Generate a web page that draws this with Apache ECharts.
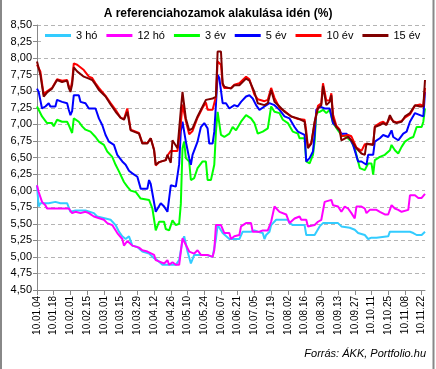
<!DOCTYPE html>
<html>
<head>
<meta charset="utf-8">
<script src="https://cdn.jsdelivr.net/npm/echarts@6/dist/echarts.min.js"></script>
<style>html,body{margin:0;padding:0;background:#fff;}#c{width:436px;height:369px;}</style>
</head>
<body>
<div id="c"></div>
<script>
// x tick labels (every 10 business days)
const xLabels = ['10.01.04','10.01.18','10.02.01','10.02.15','10.03.01','10.03.15','10.03.29','10.04.12','10.04.26','10.05.10','10.05.24','10.06.07','10.06.21','10.07.05','10.07.19','10.08.02','10.08.16','10.08.30','10.09.13','10.09.27','10.10.11','10.10.25','10.11.08','10.11.22'];
const seriesNames = ['3 hó','12 hó','3 év','5 év','10 év','15 év'];

// business-day indices and yields (%)
const days3ho = [0,1,2,7,11,14,18,20,23,29,34,36,41,44,47,49,51,53,55,57,60,63,67,70,72,75,79,83,85,87,88,90,92,94,97,101,105,107,108,111,115,121,123,128,130,132,135,136,137,139,140,143,150,151,153,160,161,166,169,171,180,182,187,190,192,196,198,200,203,204,210,211,223,225,227,230,232];
const val3ho = [6.08,5.76,5.81,5.81,5.83,5.81,5.81,5.68,5.70,5.70,5.66,5.61,5.58,5.56,5.48,5.38,5.31,5.27,5.31,5.17,5.15,5.08,5.05,4.98,4.95,4.88,4.88,4.88,4.95,5.25,5.31,5.08,4.90,5.03,5.03,5.03,5.00,5.27,5.48,5.36,5.27,5.27,5.38,5.38,5.40,5.38,5.36,5.27,5.33,5.38,5.48,5.56,5.56,5.51,5.48,5.48,5.33,5.33,5.46,5.51,5.51,5.46,5.44,5.41,5.36,5.33,5.27,5.29,5.29,5.31,5.31,5.38,5.38,5.36,5.33,5.33,5.38];

const days12ho = [0,1,3,5,6,11,19,21,23,26,29,31,34,35,40,42,45,48,51,52,54,57,61,63,66,70,71,74,76,78,79,81,83,85,87,88,91,94,96,98,102,105,106,107,110,112,115,116,118,121,122,125,128,129,133,135,138,140,142,145,149,151,154,157,158,161,162,166,168,170,172,176,177,180,182,184,186,188,190,191,194,196,197,199,203,205,208,210,212,214,216,218,222,223,226,228,230,232];
const val12ho = [6.08,5.98,5.83,5.78,5.73,5.73,5.73,5.66,5.68,5.66,5.68,5.66,5.61,5.58,5.56,5.51,5.48,5.36,5.27,5.17,5.24,5.17,5.14,5.10,5.08,5.03,4.95,4.92,4.90,4.95,4.88,4.92,4.88,4.88,5.28,5.31,5.08,5.05,5.10,5.03,5.03,5.00,5.10,5.48,5.48,5.36,5.36,5.27,5.31,5.33,5.46,5.51,5.51,5.38,5.38,5.40,5.40,5.53,5.76,5.68,5.64,5.51,5.58,5.61,5.56,5.56,5.46,5.48,5.53,5.56,5.83,5.86,5.78,5.76,5.68,5.76,5.73,5.66,5.58,5.76,5.76,5.73,5.66,5.71,5.71,5.68,5.64,5.64,5.78,5.73,5.71,5.68,5.71,5.93,5.93,5.89,5.89,5.95];

const days3ev = [0,1,3,6,9,10,12,15,18,19,21,22,25,27,29,32,35,37,40,42,45,47,49,52,54,56,59,62,67,69,71,73,76,77,79,81,83,85,86,87,88,89,91,92,94,96,99,101,102,104,106,107,108,109,110,112,115,117,119,122,125,128,130,132,135,138,140,142,145,147,150,153,156,157,160,161,163,165,166,167,169,171,173,175,177,180,182,185,188,190,192,193,196,198,200,201,202,205,208,211,212,214,216,218,220,223,225,227,230,231,232];
const val3ev = [7.27,7.22,7.12,7.02,7.02,6.97,7.07,7.04,7.04,6.99,6.87,7.09,7.04,6.97,6.92,6.89,6.81,6.74,6.69,6.59,6.51,6.39,6.29,6.13,6.06,6.00,5.98,5.88,5.86,5.73,5.40,5.53,5.53,5.42,5.40,5.55,5.48,5.50,5.80,6.64,6.74,6.49,6.44,6.16,6.19,6.34,6.44,6.44,6.16,6.16,6.39,6.89,7.19,7.17,6.84,6.81,6.86,6.96,6.91,7.04,7.14,7.09,7.02,6.86,6.89,6.94,7.27,7.19,7.17,7.07,7.02,6.89,6.86,6.79,6.79,6.44,6.41,6.54,6.74,7.17,7.19,7.22,7.17,7.22,7.02,6.91,6.84,6.81,6.74,6.64,6.44,6.34,6.31,6.41,6.41,6.24,6.46,6.51,6.54,6.61,6.69,6.61,6.56,6.66,6.74,6.79,6.81,6.96,6.96,7.04,7.24];

const days5ev = [0,1,3,5,7,8,11,12,15,18,19,20,21,22,25,26,29,31,35,37,39,41,43,46,48,51,53,55,57,60,62,66,67,68,69,71,74,76,78,79,80,83,84,85,86,87,88,89,91,92,93,96,98,100,102,103,105,106,107,108,109,111,113,115,118,120,122,125,127,129,131,133,136,139,142,145,148,151,154,156,157,160,161,163,165,166,167,169,172,175,177,180,182,185,187,189,192,194,197,198,201,202,205,207,210,212,213,216,219,221,223,226,229,231,232];
const val5ev = [7.54,7.49,7.24,7.27,7.32,7.27,7.27,7.37,7.34,7.32,7.22,7.14,7.20,7.44,7.44,7.34,7.32,7.24,7.24,7.09,6.99,6.84,6.74,6.69,6.54,6.44,6.39,6.30,6.26,6.21,6.03,6.03,6.16,6.10,5.96,5.68,5.81,5.76,5.68,5.68,6.08,6.06,6.06,6.40,6.90,7.04,7.06,6.74,6.49,6.39,6.54,6.74,6.96,7.02,6.94,6.71,6.71,6.89,7.30,7.75,7.70,7.32,7.32,7.24,7.29,7.27,7.34,7.42,7.44,7.39,7.29,7.22,7.27,7.32,7.29,7.22,7.12,7.09,6.96,6.89,6.89,6.84,6.44,6.49,6.59,6.84,7.22,7.27,7.24,7.24,7.02,6.94,6.86,6.86,6.79,6.69,6.44,6.44,6.39,6.54,6.54,6.74,6.79,6.84,6.81,6.91,6.81,6.76,6.86,6.89,7.04,7.17,7.14,7.12,7.49];

const daysLong = [0,2,4,6,9,12,15,18,19,20,21,22,24,25,28,31,33,35,37,41,44,47,50,52,54,56,61,63,66,68,70,71,73,77,78,80,81,84,86,87,89,91,93,96,99,101,102,105,107,108,110,111,112,116,118,121,125,127,130,132,136,138,140,142,145,148,152,156,160,161,162,164,166,168,170,171,173,175,176,177,179,181,182,186,188,191,194,196,197,201,202,205,207,209,211,213,215,218,220,223,226,229,231,232];
const val10ev = [7.90,7.80,7.45,7.50,7.55,7.68,7.66,7.67,7.58,7.52,7.65,7.92,7.90,7.90,7.82,7.72,7.70,7.62,7.55,7.43,7.32,7.22,7.10,7.08,7.24,6.92,6.87,6.72,6.72,6.79,6.62,6.38,6.43,6.46,6.53,6.60,6.62,6.60,7.02,7.30,7.05,6.85,6.90,7.10,7.25,7.33,7.22,7.22,7.42,7.95,7.90,7.60,7.55,7.55,7.60,7.62,7.72,7.68,7.45,7.38,7.35,7.37,7.55,7.40,7.25,7.20,7.12,7.08,7.07,6.90,6.66,6.72,7.02,7.28,7.32,7.62,7.36,7.36,7.47,7.15,6.98,6.92,6.82,6.84,6.82,6.65,6.60,6.70,6.72,6.70,6.97,7.02,7.04,7.00,7.10,7.05,7.03,7.05,7.10,7.15,7.28,7.30,7.28,7.55];
const val15ev = [7.95,7.75,7.42,7.48,7.54,7.67,7.64,7.66,7.55,7.49,7.60,7.86,7.80,7.77,7.72,7.69,7.67,7.60,7.52,7.42,7.30,7.19,7.10,7.07,7.19,6.91,6.86,6.71,6.71,6.79,6.61,6.39,6.43,6.46,6.54,6.42,6.76,6.64,7.22,7.49,7.09,6.91,6.94,7.12,7.27,7.37,7.34,7.39,7.42,8.10,8.10,7.62,7.57,7.54,7.59,7.59,7.69,7.66,7.49,7.32,7.29,7.32,7.52,7.34,7.27,7.19,7.12,7.09,7.04,6.84,6.64,6.71,7.04,7.24,7.29,7.58,7.29,7.34,7.44,7.09,6.96,6.91,6.76,6.81,6.76,6.64,6.56,6.54,6.71,6.69,6.96,6.99,7.02,6.99,7.14,7.04,7.02,7.04,7.12,7.17,7.29,7.27,7.27,7.67];

const colors = ['#33ccff','#ff00ff','#00ff00','#0000ff','#ff0000','#800000'];
const pairs = (d, v) => d.map((x, i) => [x, v[i]]);
const seriesData = [pairs(days3ho, val3ho), pairs(days12ho, val12ho), pairs(days3ev, val3ev), pairs(days5ev, val5ev), pairs(daysLong, val10ev), pairs(daysLong, val15ev)];

const FONT = 'Liberation Sans, Arial, sans-serif';
const chart = echarts.init(document.getElementById('c'), null, {renderer: 'canvas'});
chart.setOption({
  animation: false,
  backgroundColor: '#ffffff',
  title: {
    text: 'A referenciahozamok alakulása idén (%)',
    left: 'center', top: 3,
    textStyle: {fontFamily: FONT, fontSize: 12, fontWeight: 'bold', color: '#000'}
  },
  legend: {
    data: seriesNames,
    left: 42, top: 27, width: 390,
    itemWidth: 26, itemHeight: 3, itemGap: 9,
    icon: 'rect',
    backgroundColor: '#ffffff',
    padding: [3, 6, 3, 3],
    textStyle: {fontFamily: FONT, fontSize: 11, color: '#000'}
  },
  grid: {left: 37, right: 11, top: 25, bottom: 79, containLabel: false},
  xAxis: {
    type: 'value', min: 0, max: 232, interval: 10,
    splitLine: {show: false},
    axisLine: {lineStyle: {color: '#888', width: 1}},
    axisTick: {length: 5, lineStyle: {color: '#888'}},
    axisLabel: {
      rotate: 90, fontSize: 10, fontFamily: FONT, color: '#000', margin: 6,
      showMaxLabel: false,
      formatter: v => (v % 10 === 0 && xLabels[v / 10]) ? xLabels[v / 10] : ''
    }
  },
  yAxis: {
    type: 'value', min: 4.5, max: 8.5, interval: 0.25,
    axisLine: {show: true, lineStyle: {color: '#888', width: 1}},
    axisTick: {show: true, length: 4, lineStyle: {color: '#888'}},
    axisLabel: {fontSize: 11, fontFamily: FONT, color: '#000', margin: 5,
      formatter: v => v.toFixed(2).replace('.', ',')},
    splitLine: {lineStyle: {color: '#b4b4b4', type: [4, 3], width: 1}}
  },
  series: seriesNames.map((n, i) => ({
    name: n, type: 'line', data: seriesData[i], symbol: 'none', showSymbol: false,
    lineStyle: {width: 2, color: colors[i]}, itemStyle: {color: colors[i]}
  })),
  graphic: [
    {type: 'text', right: 10, top: 348, style: {text: 'Forrás: ÁKK, Portfolio.hu', font: 'italic 11px Liberation Sans, Arial, sans-serif', fill: '#000'}},
    {type: 'line', shape: {x1: 1, y1: 0, x2: 1, y2: 369}, style: {stroke: '#888', lineWidth: 2}},
    {type: 'line', shape: {x1: 433.5, y1: 0, x2: 433.5, y2: 369}, style: {stroke: '#888', lineWidth: 2}}
  ]
});
</script>
</body>
</html>
